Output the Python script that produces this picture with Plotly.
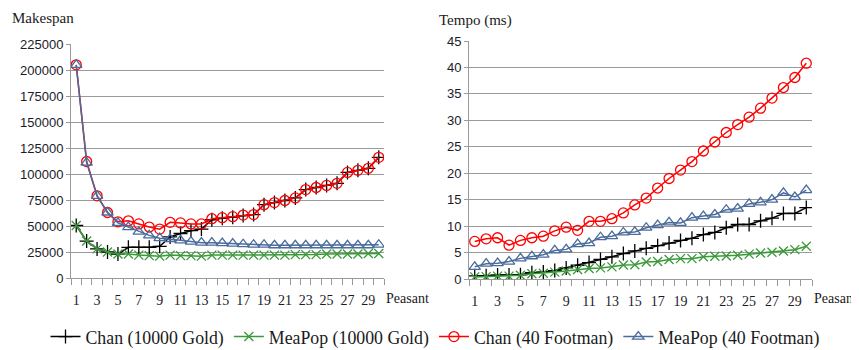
import plotly.graph_objects as go

peasants = list(range(1, 31))

# Left chart: Makespan
mk_chan_gold = [50500, 35500, 28000, 25000, 23000, 29500, 29500, 29500, 30500, 39500,
                42800, 45500, 47000, 56000, 57500, 58500, 60000, 61000, 70500, 72500,
                74500, 77000, 85000, 87000, 89000, 91000, 101500, 103500, 105500, 116000]
mk_meapop_gold = [50500, 35500, 28000, 25000, 23000, 23000, 22000, 21500, 21000, 22000,
                  21500, 21500, 21000, 22000, 22000, 22000, 22000, 22000, 22000, 22000,
                  22000, 22500, 22500, 22500, 23000, 23000, 23000, 23000, 23500, 23500]
mk_chan_foot = [205000, 112000, 79000, 63000, 54000, 55000, 52000, 49000, 47000, 53500,
                53000, 52000, 52000, 57000, 58000, 59000, 60500, 61000, 70500, 72500,
                74500, 77000, 85000, 87000, 89000, 91000, 101500, 103500, 105500, 116000]
mk_meapop_foot = [205000, 111000, 79000, 63000, 53000, 49000, 44500, 41000, 38300, 37500,
                  36200, 35000, 34000, 34000, 33500, 33000, 32500, 32000, 32000, 31500,
                  31500, 31500, 31500, 31500, 31500, 31500, 31500, 31500, 31500, 32000]

# Right chart: Tempo (ms)
t_chan_gold = [0.6, 0.6, 0.75, 0.75, 0.8, 1.2, 1.3, 1.6, 2.1, 2.6,
               3.1, 3.7, 4.2, 4.8, 5.3, 5.8, 6.3, 6.8, 7.3, 7.7,
               8.4, 8.8, 9.7, 10.3, 10.3, 11.0, 11.5, 12.4, 12.4, 13.5]
t_meapop_gold = [0.4, 0.45, 0.55, 0.55, 0.7, 1.0, 1.1, 1.3, 1.5, 1.8,
                 2.0, 2.1, 2.3, 2.65, 2.7, 3.2, 3.3, 3.7, 3.85, 3.85,
                 4.2, 4.3, 4.35, 4.5, 4.7, 4.9, 5.05, 5.3, 5.55, 6.2]
t_chan_foot = [7.1, 7.6, 7.8, 6.4, 7.3, 7.8, 8.1, 9.1, 9.8, 9.2,
               10.9, 10.9, 11.4, 12.5, 14.0, 15.3, 17.2, 19.0, 20.6, 22.2,
               24.2, 25.9, 27.7, 29.2, 30.6, 32.3, 34.2, 36.2, 38.1, 40.8]
t_meapop_foot = [2.3, 2.9, 3.0, 3.3, 3.9, 4.3, 4.6, 5.4, 5.6, 6.6,
                 6.8, 7.9, 8.1, 8.8, 8.9, 9.7, 10.2, 10.7, 10.6, 11.6,
                 11.9, 12.2, 13.1, 13.3, 14.2, 14.5, 15.0, 16.3, 15.5, 16.8]

series_names = ["Chan (10000 Gold)", "MeaPop (10000 Gold)", "Chan (40 Footman)", "MeaPop (40 Footman)"]
x_tick_vals = list(range(1, 30, 2))
x_tick_text = [str(v) for v in x_tick_vals]

styles = [
    dict(color="#000000", symbol="cross-thin", size=10),
    dict(color="#3A9A3A", symbol="x-thin", size=9),
    dict(color="#FF0000", symbol="circle-open", size=10),
    dict(color="#4A6B9C", symbol="triangle-up-open", size=10),
]

fig = go.Figure()
left = [mk_chan_gold, mk_meapop_gold, mk_chan_foot, mk_meapop_foot]
right = [t_chan_gold, t_meapop_gold, t_chan_foot, t_meapop_foot]

for i, (name, st) in enumerate(zip(series_names, styles)):
    mk = dict(symbol=st["symbol"], size=st["size"], color=st["color"],
              line=dict(color=st["color"], width=1.3))
    fig.add_trace(go.Scatter(x=peasants, y=left[i], name=name, mode="lines+markers",
                             line=dict(color=st["color"], width=1.5), marker=mk,
                             legendgroup=name, xaxis="x", yaxis="y"))
    fig.add_trace(go.Scatter(x=peasants, y=right[i], name=name, mode="lines+markers",
                             line=dict(color=st["color"], width=1.5), marker=mk,
                             legendgroup=name, showlegend=False, xaxis="x2", yaxis="y2"))

# page body has an 8px margin: figure is sized to fit the 859x350 window
OFF = 8
W, H = 859 - OFF, 350 - OFF


def px(x):
    return (x - OFF) / W


def py(y):
    return 1 - (y - OFF) / H


grid = "#9A9A9A"
tickfont_y = dict(family="Liberation Sans, Arial, sans-serif", size=13, color="#1a1a2a")
tickfont_x = dict(family="Liberation Serif, Times New Roman, serif", size=14, color="#1a1a2a")


def xaxis(domain, anchor):
    return dict(domain=domain, anchor=anchor, range=[0.5, 30.5], tickmode="array",
                tickvals=x_tick_vals, ticktext=x_tick_text, ticks="", showgrid=False,
                showline=True, linecolor=grid, linewidth=1, zeroline=False,
                tickfont=tickfont_x, ticklabelstandoff=9, automargin=False,
                minor=dict(tick0=0.5, dtick=1, ticks="outside", ticklen=6,
                           tickcolor=grid, tickwidth=1, showgrid=False))


def yaxis(domain, anchor, rng, dt):
    return dict(domain=domain, anchor=anchor, range=rng, dtick=dt, tickformat="d",
                showgrid=True, gridcolor=grid, gridwidth=1, showline=True,
                linecolor=grid, linewidth=1, zeroline=False, ticks="outside",
                ticklen=4, tickcolor=grid, tickfont=tickfont_y, automargin=False)


serif = "Liberation Serif, Times New Roman, serif"
fig.update_layout(
    width=W, height=H, margin=dict(l=0, r=0, t=0, b=0, autoexpand=False),
    paper_bgcolor="white", plot_bgcolor="white",
    xaxis=xaxis([px(71), px(384)], "y"),
    yaxis=yaxis([py(278), py(44)], "x", [0, 225000], 25000),
    xaxis2=xaxis([px(469), px(812)], "y2"),
    yaxis2=yaxis([py(279), py(41)], "x2", [0, 45], 5),
    showlegend=True,
    legend=dict(orientation="h", x=px(435), xanchor="center", y=py(337), yanchor="middle",
                font=dict(family=serif, size=17.8, color="#1a1a1a"),
                itemwidth=30, tracegroupgap=0, bgcolor="rgba(0,0,0,0)"),
    annotations=[
        dict(text="Makespan", xref="paper", yref="paper", x=px(10), y=py(18),
             xanchor="left", yanchor="middle", showarrow=False,
             font=dict(family=serif, size=15, color="#1a1a1a")),
        dict(text="Tempo (ms)", xref="paper", yref="paper", x=px(437), y=py(20),
             xanchor="left", yanchor="middle", showarrow=False,
             font=dict(family=serif, size=15, color="#1a1a1a")),
        dict(text="Peasant", xref="x domain", yref="paper", x=1, y=py(298),
             xanchor="left", yanchor="middle", showarrow=False,
             font=dict(family=serif, size=14, color="#1a1a1a")),
        dict(text="Peasant", xref="x2 domain", yref="paper", x=1, y=py(298),
             xanchor="left", yanchor="middle", showarrow=False,
             font=dict(family=serif, size=14, color="#1a1a1a")),
    ],
)

fig.write_html("out.html")
